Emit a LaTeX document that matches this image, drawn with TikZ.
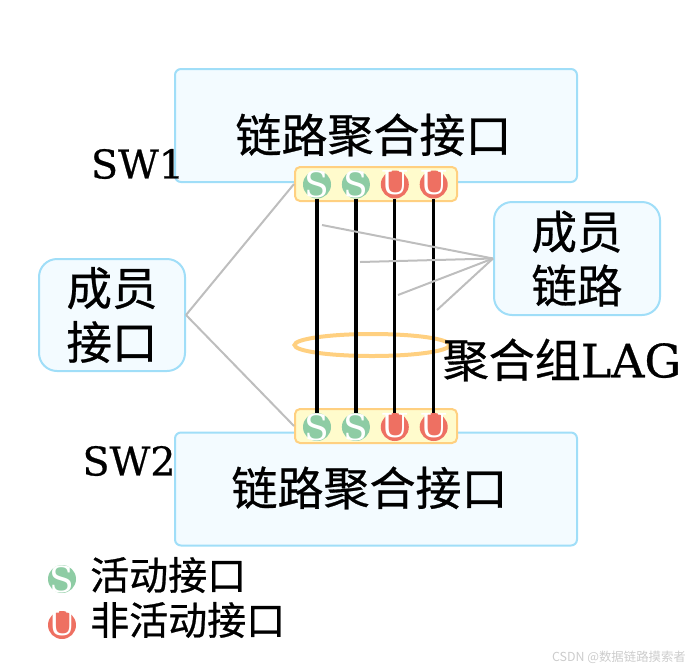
\documentclass[tikz,border=0pt]{standalone}
\usepackage{fontspec}
\usepackage{xcolor}
\usetikzlibrary{positioning,shapes.geometric}
\setmainfont[FakeBold=0.6]{DejaVu Serif}
\newfontfamily\portfont{DejaVu Serif}
\newfontfamily\cjk[FakeBold=0.6]{Noto Sans CJK SC}
\newfontfamily\markfont{Noto Sans CJK SC}
\definecolor{BoxLine}{RGB}{160,222,248}
\definecolor{BoxFill}{RGB}{243,251,255}
\definecolor{BarLine}{RGB}{255,208,128}
\definecolor{BarFill}{RGB}{255,251,204}
\definecolor{ActiveGreen}{RGB}{142,204,164}
\definecolor{IdleRed}{RGB}{238,112,98}
\definecolor{LeadGray}{RGB}{190,190,190}

\begin{document}
\begin{tikzpicture}[
    x=1pt, y=-1pt,
    bigbox/.style={rectangle, rounded corners=6pt, draw=BoxLine, line width=2pt, fill=BoxFill,
        minimum width=402pt, minimum height=113pt},
    sidebox/.style={rectangle, rounded corners=18pt, draw=BoxLine, line width=2pt, fill=BoxFill,
        align=center, font=\fontsize{45.5}{54}\selectfont\cjk},
    portbar/.style={rectangle, rounded corners=5pt, draw=BarLine, line width=2pt, fill=BarFill,
        minimum width=162pt, minimum height=34pt},
    title/.style={font=\fontsize{46}{54}\selectfont\cjk, inner sep=0pt},
    sw/.style={font=\fontsize{39.6}{44}\selectfont, inner sep=0pt},
    legend/.style={font=\fontsize{39}{44}\selectfont\cjk, inner sep=0pt, anchor=west},
    active/.style={circle, fill=ActiveGreen, minimum size=28pt, inner sep=0pt,
        label={[text=white, inner sep=0pt, font=\fontsize{36}{40}\selectfont\portfont]center:S}},
    idle/.style={circle, fill=IdleRed, minimum size=28pt, inner sep=0pt,
        label={[text=white, inner sep=0pt, yshift=1.5pt, font=\fontsize{33}{40}\selectfont\portfont]center:U}},
    member/.style={line width=3.2pt, black},
    lead/.style={line width=2pt, LeadGray},
]
\useasboundingbox (0,0) rectangle (700,670);

% switches
\node[bigbox] (sw1) at (376,125.5) {};
\node[bigbox] (sw2) at (376,489) {};
\node[title] (t1) at (373.5,135) {链路聚合接口};
\node[title] (t2) at (369.5,488) {链路聚合接口};
\node[sw] (n1) at (137.5,164) {SW1};
\node[sw] (n2) at (129,461) {SW2};

% port bars
\node[portbar] (bar1) at (376,184) {};
\node[portbar] (bar2) at (376,426) {};

\node[active] (a1) at (317,184.5) {};
\node[active, right=10.5pt of a1] (a2) {};
\node[idle, right=10.5pt of a2] (a3) {};
\node[idle, right=10.5pt of a3] (a4) {};

\node[active] (b1) at (317,427) {};
\node[active, right=10.5pt of b1] (b2) {};
\node[idle, right=10.5pt of b2] (b3) {};
\node[idle, right=10.5pt of b3] (b4) {};

% LAG ring goes under the links
\node[ellipse, draw=BarLine, line width=4pt, minimum width=155pt, minimum height=22pt, inner sep=0pt] (ring) at (372,345) {};

\draw[member] (a1.south) -- (b1.north);
\draw[member] (a2.south) -- (b2.north);
\draw[member] (a3.south) -- (b3.north);
\draw[member] (a4.south) -- (b4.north);

\node[title] (lag) at (562,360) {聚合组{\rmfamily LAG}};

% side labels
\node[sidebox, minimum width=146pt, minimum height=112pt] (port) at (112,315) {成员\\接口};
\node[sidebox, minimum width=166pt, minimum height=113pt] (link) at (577,258.5) {成员\\链路};

\coordinate (m1) at (322,225);
\coordinate (m2) at (360,262);
\coordinate (m3) at (398,295);
\coordinate (m4) at (437,310);

\draw[lead] (port.east) -- (bar1.west);
\draw[lead] (port.east) -- (bar2.west);
\draw[lead] (link.west) -- (m1);
\draw[lead] (link.west) -- (m2);
\draw[lead] (link.west) -- (m3);
\draw[lead] (link.west) -- (m4);

% legend
\node[active] (k1) at (62,579) {};
\node[idle] (k2) at (62,625) {};
\node[legend] (k1t) at (90,575) {活动接口};
\node[legend] (k2t) at (90,620) {非活动接口};

\node[font=\fontsize{12.4}{14}\selectfont\markfont, text=gray!40, inner sep=0pt] (mark) at (619,657) {CSDN @数据链路摸索者};
\end{tikzpicture}
\end{document}
